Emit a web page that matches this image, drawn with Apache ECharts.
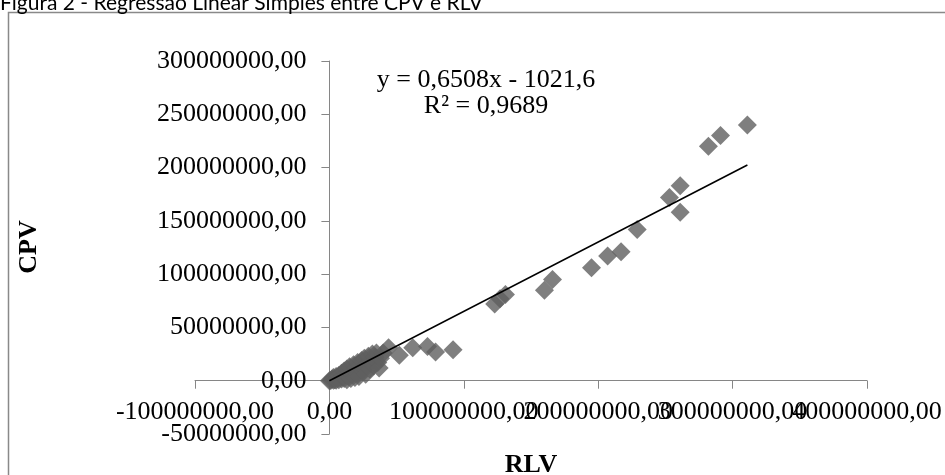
<!DOCTYPE html>
<html>
<head>
<meta charset="utf-8">
<script src="https://cdn.jsdelivr.net/npm/echarts@6/dist/echarts.min.js"></script>
<style>
  html, body { margin: 0; padding: 0; background: #fff; }
  #chart { width: 945px; height: 475px; }
</style>
</head>
<body>
<div id="chart"></div>
<script>
// values in millions
var rlv = [0, 1, 2, 3, 3, 4, 5, 5, 6, 7, 7, 8, 9, 9, 10, 11, 11, 12, 13, 13,
  14, 15, 15, 16, 17, 18, 18, 19, 20, 21, 21, 22, 23, 24, 25, 26, 26, 27, 28, 29,
  30, 31, 32, 33, 34, 35, 36, 37, 38, 40,
  44, 52, 62, 73, 79, 92,
  123, 127, 131, 160, 166, 195, 207, 217, 229, 253, 261, 261, 282, 291, 311];
var cpv = [0, 0.3, 1.5, 0.5, 3, 1, 4, 0.5, 2, 5, 1, 3, 7, 1.5, 4, 9, 2, 6, 11, 1,
  4, 8, 13, 2, 6, 10, 15, 3, 12, 17, 7, 4, 14, 19, 9, 21, 12, 6, 16, 23,
  11, 19, 25, 14, 22, 26, 17, 12, 21, 26,
  31, 24, 31, 32, 27, 29,
  72, 77, 81, 85, 95, 106, 117, 121, 142, 172, 183, 158, 220, 230, 240];

// linear trendline from the chart
var slope = 0.6508;
var intercept = -1021.6;
var eqText = 'y = 0,6508x - 1021,6';
var r2Text = 'R² = 0,9689';

var xTicks = { min: -100000000, max: 400000000, step: 100000000 };
var yTicks = { min: -50000000, max: 300000000, step: 50000000 };

var points = rlv.map(function (x, i) { return [x * 1e6, cpv[i] * 1e6]; });
var xMin = Math.min.apply(null, rlv) * 1e6;
var xMax = Math.max.apply(null, rlv) * 1e6;
var trend = [[xMin, slope * xMin + intercept], [xMax, slope * xMax + intercept]];

function fmt(v) { return v.toFixed(2).replace('.', ','); }

var serif = '"Liberation Serif", "Times New Roman", serif';
var axisGray = '#868686';

var grid = { left: 195, right: 78, top: 61, bottom: 41 };
var gw = 945 - grid.left - grid.right;
var gh = 475 - grid.top - grid.bottom;
// axes cross at zero, like Excel: shift each axis (line, ticks, labels) there
var yOffset = -gw * (0 - xTicks.min) / (xTicks.max - xTicks.min);
var xOffset = -gh * (0 - yTicks.min) / (yTicks.max - yTicks.min);

var xLabelStyle = { fontFamily: serif, fontSize: 26, color: '#000', margin: 18,
  showMinLabel: true, showMaxLabel: true, hideOverlap: false };

var myChart = echarts.init(document.getElementById('chart'));
var option = {
  backgroundColor: '#fff',
  animation: false,
  grid: grid,
  xAxis: [
    {
      type: 'value', position: 'bottom',
      min: xTicks.min, max: xTicks.max, interval: xTicks.step,
      offset: xOffset,
      axisLine: { show: true, onZero: false, lineStyle: { color: axisGray, width: 1 } },
      axisTick: { show: true, length: 8, lineStyle: { color: axisGray } },
      splitLine: { show: false },
      // last label comes from the second axis, otherwise echarts drops the 300M one
      axisLabel: Object.assign({}, xLabelStyle, {
        formatter: function (v) { return v === xTicks.max ? '' : fmt(v); }
      })
    },
    {
      type: 'value', position: 'bottom',
      min: xTicks.min, max: xTicks.max, interval: xTicks.step,
      offset: xOffset,
      axisLine: { show: false, onZero: false },
      axisTick: { show: false },
      splitLine: { show: false },
      axisLabel: Object.assign({}, xLabelStyle, {
        formatter: function (v) { return v === xTicks.max ? fmt(v) : ''; }
      })
    }
  ],
  yAxis: {
    type: 'value',
    min: yTicks.min, max: yTicks.max, interval: yTicks.step,
    offset: yOffset,
    axisLine: { show: true, onZero: false, lineStyle: { color: axisGray, width: 1 } },
    axisTick: { show: true, length: 8, lineStyle: { color: axisGray } },
    splitLine: { show: false },
    axisLabel: { formatter: fmt, fontFamily: serif, fontSize: 26, color: '#000', margin: 23,
      showMinLabel: true, showMaxLabel: true }
  },
  series: [
    {
      type: 'scatter',
      xAxisIndex: 0,
      symbol: 'diamond',
      symbolSize: 19,
      itemStyle: { color: '#5f5f5f' },
      data: points
    },
    {
      type: 'line',
      xAxisIndex: 0,
      showSymbol: false,
      symbol: 'none',
      lineStyle: { color: '#000', width: 1.5 },
      data: trend
    }
  ],
  graphic: [
    {
      type: 'rect', silent: true,
      shape: { x: 8.5, y: 12.5, width: 945, height: 475 },
      style: { fill: 'none', stroke: '#898989', lineWidth: 1.5 }
    },
    {
      type: 'text', x: 0, y: 14,
      style: { text: 'Figura 2 - Regressão Linear Simples entre CPV e RLV',
        fontSize: 21, fontFamily: 'Lato, "Liberation Sans", sans-serif', fill: '#000',
        textAlign: 'left', textVerticalAlign: 'bottom' }
    },
    {
      type: 'text', x: 486, y: 80,
      style: { text: eqText, fontSize: 26, fontFamily: serif, fill: '#000',
        textAlign: 'center', textVerticalAlign: 'middle' }
    },
    {
      type: 'text', x: 486, y: 106,
      style: { text: r2Text, fontSize: 26, fontFamily: serif, fill: '#000',
        textAlign: 'center', textVerticalAlign: 'middle' }
    },
    {
      type: 'text', x: 29, y: 247, rotation: Math.PI / 2,
      style: { text: 'CPV', fontSize: 26, fontWeight: 'bold', fontFamily: serif, fill: '#000',
        textAlign: 'center', textVerticalAlign: 'middle' }
    },
    {
      type: 'text', x: 531, y: 465,
      style: { text: 'RLV', fontSize: 26, fontWeight: 'bold', fontFamily: serif, fill: '#000',
        textAlign: 'center', textVerticalAlign: 'middle' }
    }
  ]
};
option && myChart.setOption(option);
</script>
</body>
</html>
